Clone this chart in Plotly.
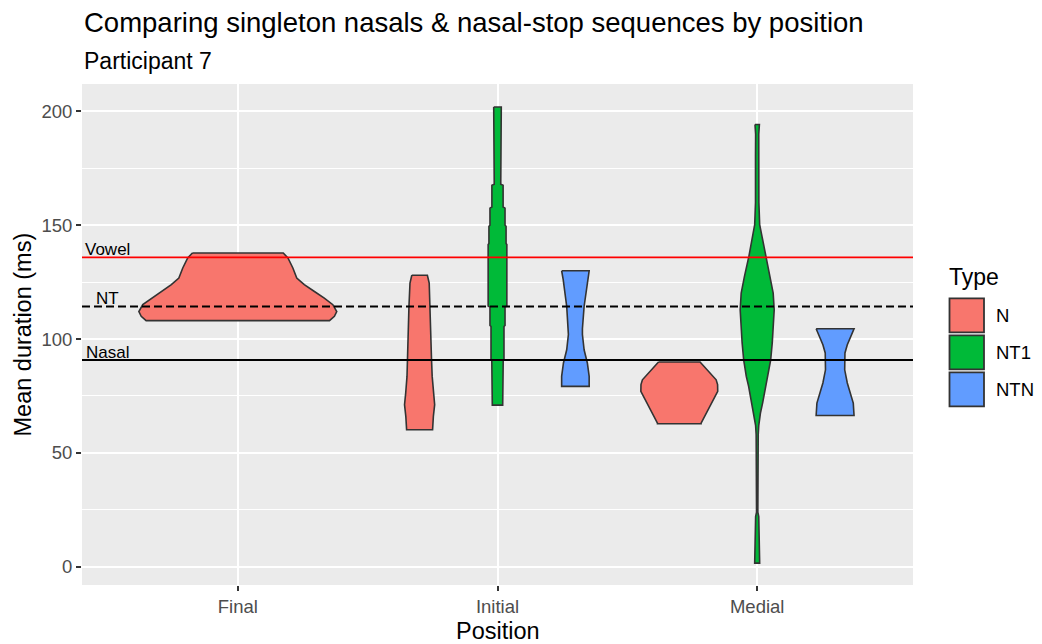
import plotly.graph_objects as go

# ---------------- data ----------------
positions = ["Final", "Initial", "Medial"]
types = ["N", "NT1", "NTN"]
type_colors = ["#F8766D", "#00BA38", "#619CFF"]

# violin profiles: duration (ms) and half-width (density, in category units)
final_n_y = [137.8, 135.6, 131.2, 126.8, 123.9, 120.9, 118.0, 115.1, 112.1, 110.0, 108.1]
final_n_w = [0.175, 0.193, 0.212, 0.227, 0.256, 0.295, 0.333, 0.366, 0.381, 0.372, 0.353]

initial_n_y = [128.0, 124.6, 114.3, 101.2, 90.9, 83.6, 76.3, 71.2, 66.0, 63.1, 60.2]
initial_n_w = [0.030, 0.037, 0.041, 0.0435, 0.046, 0.0485, 0.0535, 0.058, 0.053, 0.051, 0.050]

initial_nt1_y = [201.9, 193.0, 192.5, 168.0, 167.5, 158.0, 157.5, 150.0, 149.5, 142.0, 141.5,
                 114.5, 114.0, 106.0, 105.5, 91.0, 90.5, 82.5, 82.0, 71.0]
initial_nt1_w = [0.0146, 0.0146, 0.0125, 0.0125, 0.0216, 0.0216, 0.029, 0.029, 0.033, 0.033, 0.036,
                 0.036, 0.029, 0.029, 0.025, 0.025, 0.022, 0.022, 0.020, 0.020]

initial_ntn_y = [130.0, 126.1, 114.3, 104.5, 102.0, 95.3, 89.5, 83.6, 79.2]
initial_ntn_w = [0.053, 0.047, 0.0335, 0.027, 0.027, 0.0335, 0.046, 0.053, 0.053]

medial_n_y = [89.9, 82.1, 80.0, 77.0, 63.1, 62.8]
medial_n_w = [0.080, 0.142, 0.1475, 0.148, 0.084, 0.084]

medial_nt1_y = [194.2, 190.0, 180.0, 170.0, 160.0, 150.2, 146.0, 142.2, 136.3, 127.5, 120.2, 112.9,
                105.6, 98.3, 90.9, 83.6, 79.2, 72.0, 67.5, 62.0, 58.0, 54.0, 50.0, 24.0, 22.0,
                12.0, 6.0, 1.6]
medial_nt1_w = [0.0085, 0.006, 0.0065, 0.006, 0.0065, 0.0096, 0.016, 0.023, 0.032, 0.049, 0.0616, 0.0655,
                0.063, 0.058, 0.052, 0.042, 0.033, 0.021, 0.0125, 0.006, 0.004, 0.004, 0.0025, 0.0025, 0.006,
                0.007, 0.009, 0.0096]

medial_ntn_y = [104.5, 97.5, 93.9, 86.5, 80.7, 71.9, 66.4]
medial_ntn_w = [0.073, 0.047, 0.038, 0.037, 0.047, 0.070, 0.073]

violins = [
    ("Final", "N", final_n_y, final_n_w),
    ("Initial", "N", initial_n_y, initial_n_w),
    ("Initial", "NT1", initial_nt1_y, initial_nt1_w),
    ("Initial", "NTN", initial_ntn_y, initial_ntn_w),
    ("Medial", "N", medial_n_y, medial_n_w),
    ("Medial", "NT1", medial_nt1_y, medial_nt1_w),
    ("Medial", "NTN", medial_ntn_y, medial_ntn_w),
]

ref_labels = ["Vowel", "NT", "Nasal"]
ref_values = [135.9, 114.3, 90.8]
ref_colors = ["red", "black", "black"]
ref_dash = ["solid", "8px,4px", "solid"]
ref_label_x = 0.5
ref_label_offset = 3.4

y_ticks = [0, 50, 100, 150, 200]

FONT = "Liberation Sans, Arial, sans-serif"

# ---------------- figure ----------------
fig = go.Figure()

dodge_width = 0.9
for pos, typ, ys, ws in violins:
    groups = [t for p, t, _, _ in violins if p == pos]
    n = len(groups)
    i = groups.index(typ)
    center = positions.index(pos) + 1 + (i - (n - 1) / 2) * dodge_width / n
    xs = [center - w for w in ws] + [center + w for w in reversed(ws)]
    yy = list(ys) + list(reversed(ys))
    xs.append(xs[0])
    yy.append(yy[0])
    fig.add_trace(go.Scatter(
        x=xs, y=yy, mode="lines", fill="toself",
        fillcolor=type_colors[types.index(typ)],
        line=dict(color="#333333", width=1.6),
        name=typ, showlegend=False, hoverinfo="skip",
    ))

for lab, val, col, dash in zip(ref_labels, ref_values, ref_colors, ref_dash):
    fig.add_shape(type="line", xref="x domain", yref="y", x0=0, x1=1, y0=val, y1=val,
                  line=dict(color=col, width=1.8, dash=dash), layer="above")
    fig.add_annotation(x=ref_label_x, y=val + ref_label_offset, xref="x", yref="y", text=lab,
                       showarrow=False, font=dict(family=FONT, size=17, color="black"),
                       xanchor="center", yanchor="middle")

# page offset (browser body margin) -> work in window pixels, shifted by OFF
OFF = 8
W, H = 1042 - OFF, 644 - OFF
L, R, T, B = 82, 913, 84, 585  # panel edges in window pixels


def px(xp):
    return (xp - L) / (R - L)


def py(yp):
    return (B - yp) / (B - T)


# titles
fig.add_annotation(x=px(82), y=py(23), xref="paper", yref="paper", xanchor="left", yanchor="middle",
                   text="Comparing singleton nasals & nasal-stop sequences by position",
                   showarrow=False, font=dict(family=FONT, size=27.5, color="black"))
fig.add_annotation(x=px(82), y=py(61), xref="paper", yref="paper", xanchor="left", yanchor="middle",
                   text="Participant 7", showarrow=False, font=dict(family=FONT, size=23, color="black"))
# axis titles
fig.add_annotation(x=px((L + R) / 2), y=py(631), xref="paper", yref="paper", xanchor="center",
                   yanchor="middle", text="Position", showarrow=False,
                   font=dict(family=FONT, size=23.5, color="black"))
fig.add_annotation(x=px(22), y=py((T + B) / 2), xref="paper", yref="paper", xanchor="center",
                   yanchor="middle", text="Mean duration (ms)", textangle=-90, showarrow=False,
                   font=dict(family=FONT, size=23.5, color="black"))

# legend (drawn manually to match ggplot keys)
fig.add_annotation(x=px(947), y=py(277), xref="paper", yref="paper", xanchor="left", yanchor="middle",
                   text="Type", showarrow=False, font=dict(family=FONT, size=23, color="black"))
key_top = 298.3
key_h = 34
key_gap = 3
for k, (typ, col) in enumerate(zip(types, type_colors)):
    y0 = key_top + k * (key_h + key_gap)
    fig.add_shape(type="rect", xref="paper", yref="paper", x0=px(949.5), x1=px(984), y0=py(y0 + key_h),
                  y1=py(y0), fillcolor=col, line=dict(color="#333333", width=1.8), layer="above")
    fig.add_annotation(x=px(995), y=py(y0 + key_h / 2), xref="paper", yref="paper", xanchor="left",
                       yanchor="middle", text=typ, showarrow=False, borderpad=0,
                       font=dict(family=FONT, size=18.5, color="black"))

fig.update_layout(
    width=W, height=H,
    margin=dict(l=L - OFF, r=1042 - R, t=T - OFF, b=644 - B, pad=0),
    plot_bgcolor="#EBEBEB", paper_bgcolor="white",
    showlegend=False,
    font=dict(family=FONT),
)
fig.update_xaxes(
    range=[0.4, 3.6], tickmode="array", tickvals=[1, 2, 3], ticktext=positions,
    showgrid=True, gridcolor="white", gridwidth=2, zeroline=False, showline=False,
    ticks="outside", ticklen=5, tickwidth=1.5, tickcolor="#333333",
    tickfont=dict(family=FONT, size=18.5, color="#4D4D4D"),
)
fig.update_yaxes(
    range=[-8, 212], tickmode="array", tickvals=y_ticks,
    showgrid=True, gridcolor="white", gridwidth=2, zeroline=False, showline=False,
    ticks="outside", ticklen=5, tickwidth=1.5, tickcolor="#333333",
    tickfont=dict(family=FONT, size=18.5, color="#4D4D4D"),
    minor=dict(tickmode="array", tickvals=[25, 75, 125, 175], showgrid=True, gridcolor="white",
               gridwidth=1, ticks=""),
)

fig.write_html("out.html")
